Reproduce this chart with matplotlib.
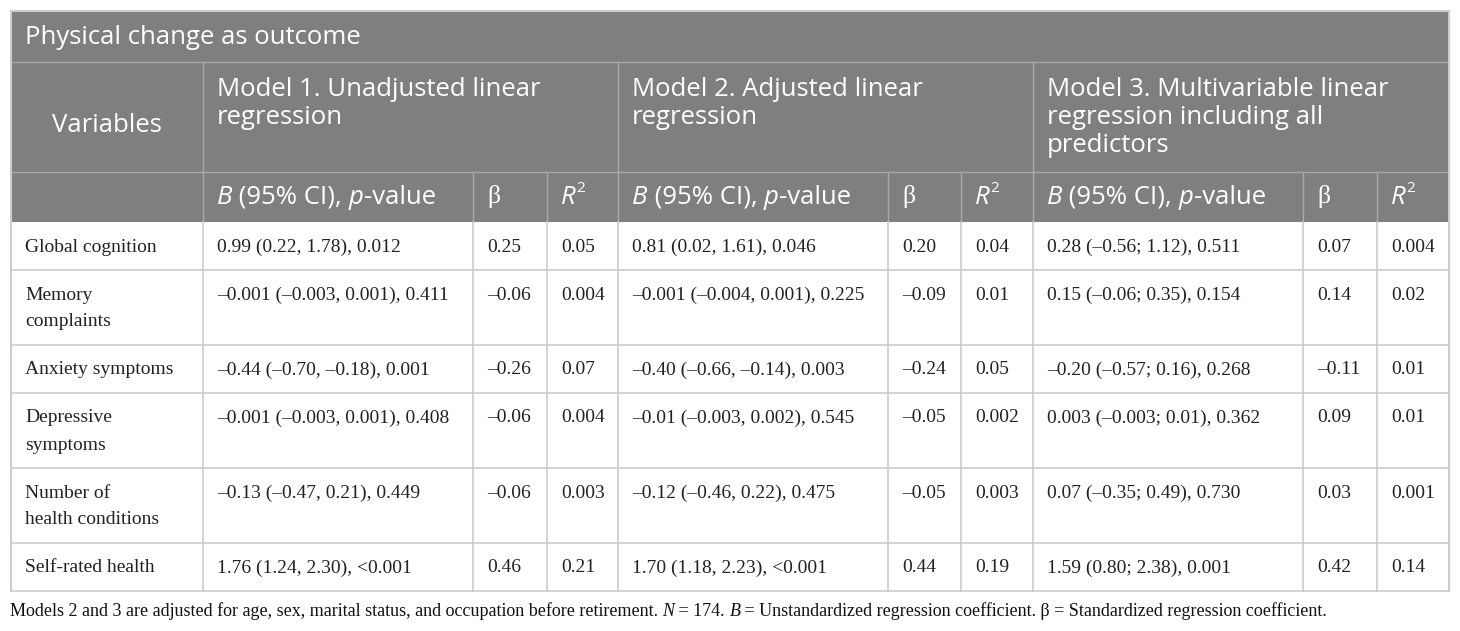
import matplotlib
matplotlib.use("Agg")
import matplotlib.pyplot as plt
from matplotlib.patches import Rectangle

# ---- table content ----
title = "Physical change as outcome"
models = ["Model 1. Unadjusted linear\nregression",
          "Model 2. Adjusted linear\nregression",
          "Model 3. Multivariable linear\nregression including all\npredictors"]
variables = ["Global cognition", "Memory\ncomplaints", "Anxiety symptoms",
             "Depressive\nsymptoms", "Number of\nhealth conditions", "Self-rated health"]

m1_b = ["0.99 (0.22, 1.78), 0.012", "–0.001 (–0.003, 0.001), 0.411",
        "–0.44 (–0.70, –0.18), 0.001", "–0.001 (–0.003, 0.001), 0.408",
        "–0.13 (–0.47, 0.21), 0.449", "1.76 (1.24, 2.30), <0.001"]
m1_beta = ["0.25", "–0.06", "–0.26", "–0.06", "–0.06", "0.46"]
m1_r2 = ["0.05", "0.004", "0.07", "0.004", "0.003", "0.21"]

m2_b = ["0.81 (0.02, 1.61), 0.046", "–0.001 (–0.004, 0.001), 0.225",
        "–0.40 (–0.66, –0.14), 0.003", "–0.01 (–0.003, 0.002), 0.545",
        "–0.12 (–0.46, 0.22), 0.475", "1.70 (1.18, 2.23), <0.001"]
m2_beta = ["0.20", "–0.09", "–0.24", "–0.05", "–0.05", "0.44"]
m2_r2 = ["0.04", "0.01", "0.05", "0.002", "0.003", "0.19"]

m3_b = ["0.28 (–0.56; 1.12), 0.511", "0.15 (–0.06; 0.35), 0.154",
        "–0.20 (–0.57; 0.16), 0.268", "0.003 (–0.003; 0.01), 0.362",
        "0.07 (–0.35; 0.49), 0.730", "1.59 (0.80; 2.38), 0.001"]
m3_beta = ["0.07", "0.14", "–0.11", "0.09", "0.03", "0.42"]
m3_r2 = ["0.004", "0.02", "0.01", "0.01", "0.001", "0.14"]

footnote = [("Models 2 and 3 are adjusted for age, sex, marital status, and occupation before retirement. ", "n"),
            ("N", "i"), (" = 174. ", "n"), ("B", "i"),
            (" = Unstandardized regression coefficient. β = Standardized regression coefficient.", "n")]

# ---- layout (pixels) ----
W, H = 1460, 631
col_x = [11, 203, 473, 547, 618, 888, 961, 1033, 1303, 1377, 1449]
row_y = [222, 270, 345, 393, 468, 543, 591]
top, h_title, h_model = 11, 62, 172

HEAD_BG = "#7f7f7f"
HEAD_LINE = "#a8a8a8"
BODY_LINE = "#cccccc"
BODY_TXT = "#222222"
SANS = "Open Sans"
SERIF = "Liberation Serif"
HS = 18.5

fig = plt.figure(figsize=(W / 100, H / 100), dpi=100)
ax = fig.add_axes([0, 0, 1, 1])
ax.set_xlim(0, W)
ax.set_ylim(H, 0)
ax.axis("off")
renderer = fig.canvas.get_renderer()


def runs(x, y, parts, family, size, color):
    # draw consecutive text pieces, italic where asked
    for txt, st in parts:
        if st == "sup":
            t = ax.text(x + 0.5, y - 9, txt, family=family, fontsize=size * 0.6,
                        color=color, va="center", ha="left")
        else:
            t = ax.text(x, y, txt, family=family, fontsize=size, color=color,
                        va="center", ha="left",
                        style="italic" if st == "i" else "normal")
        bb = t.get_window_extent(renderer)
        x += bb.width
    return x


# header background
ax.add_patch(Rectangle((col_x[0], top), col_x[-1] - col_x[0], row_y[0] - top,
                       facecolor=HEAD_BG, edgecolor="none"))

# header lines
ax.plot([col_x[0], col_x[-1]], [h_title, h_title], color=HEAD_LINE, lw=1)
ax.plot([col_x[0], col_x[-1]], [h_model, h_model], color=HEAD_LINE, lw=1)
for cx in [col_x[1], col_x[4], col_x[7]]:
    ax.plot([cx, cx], [h_title, row_y[0]], color=HEAD_LINE, lw=1)
for cx in [col_x[2], col_x[3], col_x[5], col_x[6], col_x[8], col_x[9]]:
    ax.plot([cx, cx], [h_model, row_y[0]], color=HEAD_LINE, lw=1)

# body lines
for ry in row_y[1:]:
    ax.plot([col_x[0], col_x[-1]], [ry, ry], color=BODY_LINE, lw=1.2)
for cx in col_x[1:-1]:
    ax.plot([cx, cx], [row_y[0], row_y[-1]], color=BODY_LINE, lw=1.2)
ax.plot([col_x[0], col_x[0]], [top, row_y[-1]], color=BODY_LINE, lw=1.5)
ax.plot([col_x[-1], col_x[-1]], [top, row_y[-1]], color=BODY_LINE, lw=1.5)
ax.plot([col_x[0], col_x[-1]], [top, top], color=BODY_LINE, lw=1.5)

# header text
ax.text(25, 37, title, family=SANS, fontsize=HS, color="white", va="center")
ax.text((col_x[0] + col_x[1]) / 2, 126, "Variables", family=SANS, fontsize=HS,
        color="white", va="center", ha="center")
for k, m in enumerate(models):
    for j, line in enumerate(m.split("\n")):
        ax.text(col_x[1 + 3 * k] + 14, 89 + 28 * j, line, family=SANS,
                fontsize=HS, color="white", va="center")

sub_y = 197
for k in range(3):
    c = 1 + 3 * k
    runs(col_x[c] + 14, sub_y, [("B", "i"), (" (95% CI), ", "n"), ("p", "i"), ("-value", "n")],
         SANS, HS, "white")
    ax.text(col_x[c + 1] + 14, sub_y, "β", family=SERIF, fontsize=HS,
            color="white", va="center")
    runs(col_x[c + 2] + 14, sub_y, [("R", "i"), ("2", "sup")], SANS, HS, "white")

# body text
cols = [variables, m1_b, m1_beta, m1_r2, m2_b, m2_beta, m2_r2, m3_b, m3_beta, m3_r2]
for c, vals in enumerate(cols):
    for r, v in enumerate(vals):
        for j, line in enumerate(v.split("\n")):
            ax.text(col_x[c] + 14, row_y[r] + 25 + 27 * j, line, family=SERIF,
                    fontsize=14, color=BODY_TXT, va="center")

# footnote
runs(10, 611, footnote, SERIF, 13, "#111111")

fig.savefig("out.png", dpi=100)
